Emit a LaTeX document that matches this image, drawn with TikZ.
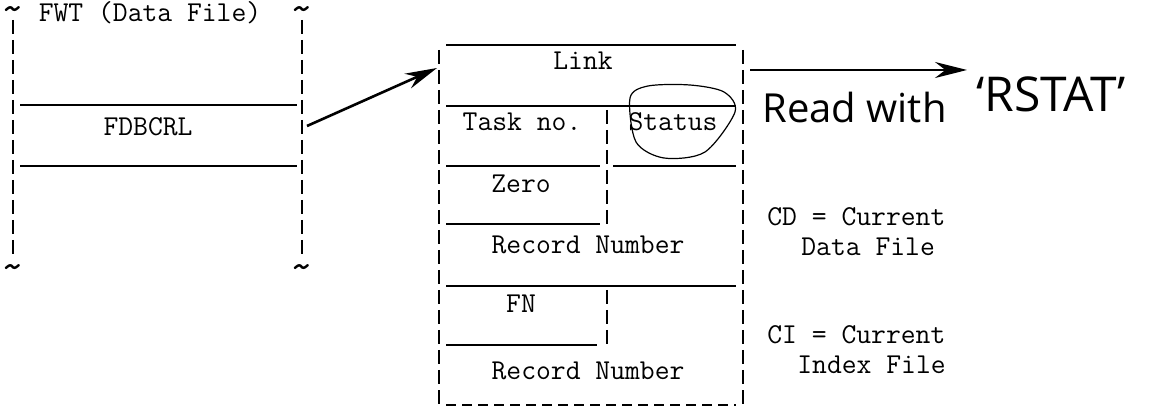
\documentclass[tikz,border=0pt]{standalone}
\usepackage{fontspec}
\newfontfamily\handfont{Open Sans}
\usetikzlibrary{arrows.meta}

\begin{document}
\begin{tikzpicture}[x=0.5pt, y=-0.5pt,
	every node/.style={font=\ttfamily\fontsize{14.4}{15}\selectfont, inner sep=0pt},
	wave/.style={font=\ttfamily\fontsize{22}{22}\selectfont, anchor=north},
	wall/.style={line width=1pt, dash pattern=on 7pt off 3pt},
	rule/.style={line width=0.8pt},
	link/.style={line width=1.3pt, -{Stealth[length=16pt, width=8pt]}},
	hand/.style={font=\handfont\fontsize{20}{22}\selectfont}]
	\useasboundingbox (0,0) rectangle (1170,410);
	% FWT (Data File)
	\node (fwt) at (150,13) {FWT (Data File)};
	\node[wave] (fwtnw) at (13,6) {\textasciitilde};
	\node[wave] (fwtne) at (302,6) {\textasciitilde};
	\node[wave] (fwtsw) at (13,264) {\textasciitilde};
	\node[wave] (fwtse) at (302,264) {\textasciitilde};
	\draw[wall] (13,20) -- (13,256);
	\draw[wall] (302,20) -- (302,256);
	\draw[rule] (20,105) -- (297,105);
	\draw[rule] (20,166) -- (297,166);
	\node (fdbcrl) at (148,127) {FDBCRL};
	% record block
	\draw[wall] (439,50) -- (439,405);
	\draw[wall] (743,50) -- (743,405);
	\draw[wall] (607,110) -- (607,226);
	\draw[wall] (607,290) -- (607,345);
	\draw[rule] (446,45) -- (736,45);
	\draw[rule] (446,106) -- (736,106);
	\draw[rule] (446,166) -- (600,166) (613,166) -- (736,166);
	\draw[rule] (446,224) -- (600,224);
	\draw[rule] (446,286) -- (736,286);
	\draw[rule] (446,345) -- (597,345);
	\draw[line width=0.6pt, dash pattern=on 5pt off 3pt] (446,405) -- (736,405);
	\node (link) at (583,61) {Link};
	\node (task) at (522,122) {Task no.};
	\node (status) at (673,122) {Status};
	\node (zero) at (521,184) {Zero};
	\node (cdrec) at (588,245) {Record Number};
	\node (fn) at (521,304) {FN};
	\node (cirec) at (588,371) {Record Number};
	\node[anchor=west, align=left] (cd) at (767,232) {CD = Current\\\hspace*{17pt}Data File};
	\node[anchor=west, align=left] (ci) at (767,350) {CI = Current\\\hspace*{15pt}Index File};
	% pencil notes
	\draw[line width=0.6pt] plot[smooth cycle] coordinates {(630,98) (636,142) (664,158) (705,152) (735,112) (724,92) (690,85) (648,86)};
	\node[hand, anchor=base west] (read) at (762,123) {Read with};
	\node[hand, font=\handfont\fontsize{24}{26}\selectfont, anchor=base west] (rstat) at (976,112) {‘RSTAT’};
	% pointers
	\coordinate (fwtout) at (307,126);
	\coordinate (linkin) at (437,68);
	\coordinate (linkout) at (750,70);
	\coordinate (rsin) at (967,70);
	\draw[link] (fwtout) -- (linkin);
	\draw[link] (linkout) -- (rsin);
\end{tikzpicture}
\end{document}
